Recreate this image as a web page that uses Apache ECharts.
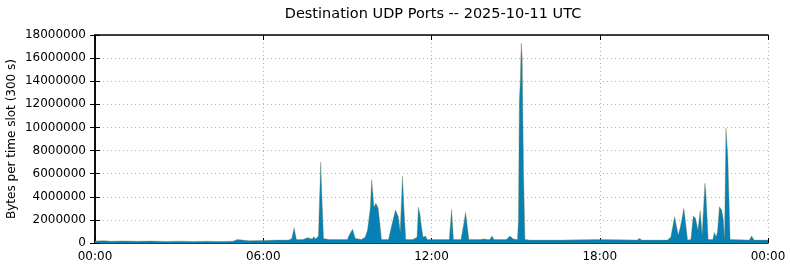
<!DOCTYPE html>
<html>
<head>
<meta charset="utf-8">
<script src="https://cdn.jsdelivr.net/npm/echarts@6/dist/echarts.min.js"></script>
<style>
html,body{margin:0;padding:0;background:#fff;}
#chart{width:790px;height:267px;}
</style>
</head>
<body>
<div id="chart"></div>
<script>
// time of day in minutes since 00:00 UTC
var minutes = [
  0, 20, 35, 60, 90, 120, 150, 180, 210, 240, 270, 295, 305, 309, 315, 330, 360, 390, 415,
  421, 426, 431, 445, 455, 465, 468, 472, 478, 483, 485, 489, 500, 540,
  544, 551, 557, 570, 578, 583, 589, 592, 597, 601, 606, 610, 613,
  628, 635, 643, 649, 653, 658, 661, 665, 680,
  689, 692, 695, 698, 702, 707, 711, 730, 758, 763, 767,
  783, 788, 793, 800, 825, 833, 840, 845, 849, 854, 880, 888, 895,
  904, 906, 908, 910, 912, 914, 917, 920, 930, 1000, 1080, 1160, 1165, 1170, 1225,
  1232, 1240, 1248, 1253, 1260, 1268,
  1275, 1280, 1285, 1290, 1295, 1299, 1305, 1307, 1312,
  1322, 1325, 1329, 1332, 1336, 1341, 1344, 1347, 1350, 1354, 1359,
  1400, 1405, 1410, 1440
];
// bytes per 300 s slot
var bytes = [
  170000, 200000, 150000, 180000, 150000, 170000, 140000, 160000, 140000, 150000, 130000, 160000, 300000, 400000, 250000, 200000, 220000, 250000, 260000,
  400000, 1320000, 300000, 300000, 450000, 350000, 550000, 350000, 600000, 7000000, 4500000, 400000, 300000, 300000,
  700000, 1200000, 400000, 300000, 500000, 1100000, 3000000, 5500000, 3100000, 3450000, 3000000, 1500000, 300000,
  300000, 1560000, 2860000, 2280000, 1000000, 5800000, 3000000, 300000, 300000,
  500000, 3090000, 2570000, 1560000, 500000, 600000, 300000, 300000, 300000, 2920000, 300000,
  300000, 1400000, 2660000, 300000, 300000, 350000, 300000, 300000, 600000, 300000, 300000, 600000, 350000,
  300000, 2000000, 12400000, 14000000, 17280000, 16000000, 6000000, 300000, 250000, 250000, 300000, 250000, 400000, 250000, 250000,
  500000, 2280000, 700000, 1470000, 3000000, 250000,
  300000, 2340000, 2140000, 1120000, 2800000, 700000, 5170000, 4400000, 300000,
  300000, 900000, 550000, 1000000, 3140000, 2860000, 2140000, 400000, 9930000, 7500000, 300000,
  250000, 600000, 250000, 250000
];
var yTicks = [0, 2000000, 4000000, 6000000, 8000000, 10000000, 12000000, 14000000, 16000000, 18000000];
var xTickLabels = ['00:00', '06:00', '12:00', '18:00', '00:00'];

var points = minutes.map(function (m, i) { return [m, bytes[i]]; });
var font = 'DejaVu Sans';
var gridLine = { show: true, lineStyle: { color: '#b0b0b0', width: 1, type: [1, 3] } };

var chart = echarts.init(document.getElementById('chart'), null, { renderer: 'canvas' });
chart.setOption({
  animation: false,
  backgroundColor: '#ffffff',
  title: {
    text: 'Destination UDP Ports -- 2025-10-11 UTC',
    left: 428, top: 2, textAlign: 'center',
    textStyle: { fontFamily: font, fontSize: 14.5, fontWeight: 'normal', color: '#000' }
  },
  grid: { left: 95, right: 22, top: 35, bottom: 24, containLabel: false, outerBoundsMode: 'none' },
  xAxis: [{
    type: 'value', min: 0, max: 1440, interval: 360, position: 'bottom',
    axisLine: { show: true, onZero: false, lineStyle: { color: '#000', width: 1.5 } },
    axisTick: { show: true, inside: true, length: 5, lineStyle: { color: '#000' } },
    axisLabel: {
      fontFamily: font, fontSize: 12, color: '#000', margin: 8,
      formatter: function (v) { return xTickLabels[Math.round(v / 360)]; }
    },
    splitLine: gridLine
  }, {
    type: 'value', min: 0, max: 1440, interval: 360, position: 'top',
    axisLine: { show: true, onZero: false, lineStyle: { color: '#000', width: 1.5 } },
    axisTick: { show: true, inside: true, length: 5, lineStyle: { color: '#000' } },
    axisLabel: { show: false }, splitLine: { show: false }
  }],
  yAxis: [{
    type: 'value', min: 0, max: 18000000, interval: 2000000, position: 'left',
    name: 'Bytes per time slot (300 s)', nameLocation: 'middle', nameGap: 77,
    nameMoveOverlap: false,
    nameTextStyle: { fontFamily: font, fontSize: 12, color: '#000' },
    axisLine: { show: true, lineStyle: { color: '#000', width: 1.5 } },
    axisTick: { show: true, inside: true, length: 5, lineStyle: { color: '#000' } },
    axisLabel: {
      fontFamily: font, fontSize: 12, color: '#000', margin: 9,
      formatter: function (v) { return String(v); }
    },
    splitLine: gridLine
  }, {
    type: 'value', min: 0, max: 18000000, interval: 2000000, position: 'right',
    axisLine: { show: true, lineStyle: { color: '#000', width: 1.5 } },
    axisTick: { show: true, inside: true, length: 5, lineStyle: { color: '#000' } },
    axisLabel: { show: false }, splitLine: { show: false }
  }],
  series: [{
    name: 'udp',
    type: 'line',
    xAxisIndex: 0, yAxisIndex: 0,
    data: points,
    showSymbol: false,
    symbol: 'none',
    lineStyle: { color: '#7f7a48', width: 0.6, opacity: 0.6 },
    areaStyle: { color: '#0581b5', opacity: 1 },
    itemStyle: { color: '#0581b5' },
    z: 1
  }]
});
</script>
</body>
</html>
